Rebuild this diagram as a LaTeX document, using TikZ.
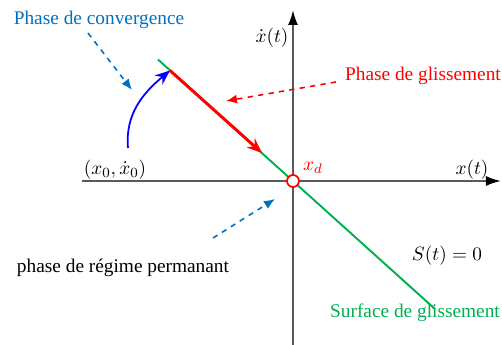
\documentclass[tikz,border=0pt]{standalone}
\usepackage{amsmath}
\usepackage{fontspec}
\setmainfont{Liberation Serif}
\usepackage{xcolor}
\usetikzlibrary{arrows.meta,positioning}
\definecolor{convblue}{RGB}{0,112,192}
\definecolor{surfgreen}{RGB}{0,176,80}

\begin{document}
\begin{tikzpicture}[
  lbl/.style={font=\fontsize{11}{13}\selectfont, inner sep=1pt},
  axis/.style={draw=black!65, line width=1.1pt, -{Latex[black,length=3mm,width=2mm]}},
  hint/.style={dashed, line width=0.9pt, -{Latex[length=2.2mm,width=1.8mm]}},
  >=Stealth
]
  \useasboundingbox (-5.86,-3.28) rectangle (4.18,3.62);

  % axes
  \coordinate (xl) at (-4.22,0);
  \coordinate (xr) at (4.16,0);
  \coordinate (yb) at (0,-3.28);
  \coordinate (yt) at (0,3.42);
  \draw[axis] (xl) -- (xr);
  \draw[axis] (yb) -- (yt);

  % sliding surface and trajectory
  \coordinate (s1) at (-2.7,2.43);
  \coordinate (s2) at (2.84,-2.56);
  \coordinate (r1) at (-2.46,2.21);
  \coordinate (r2) at (-0.62,0.56);
  \coordinate (x0) at (-3.3,0.66);
  \draw[surfgreen, line width=1.1pt] (s1) -- (s2);
  \draw[red, line width=1.7pt, -{Stealth[length=3mm,width=2.4mm]}] (r1) -- (r2);
  \draw[blue, line width=1pt, -{Stealth[length=3mm,width=2.4mm]}] (x0) to[out=95,in=220] (r1);
  \node[circle, draw=red, fill=white, line width=1pt, minimum size=2.4mm, inner sep=0pt] (O) at (0,0) {};

  % labels
  \node[lbl, text=convblue] (conv) at (-3.88,3.22) {Phase de convergence};
  \node[lbl, text=red] (gliss) at (2.6,2.1) {Phase de glissement};
  \node[lbl] (regime) at (-3.4,-1.74) {phase de régime permanant};
  \node[lbl, text=surfgreen] (surf) at (2.44,-2.64) {Surface de glissement};
  \node[lbl] (init) at (-3.56,0.22) {$(x_0,\dot{x}_0)$};
  \node[lbl] (ylab) at (-0.42,2.86) {$\dot{x}(t)$};
  \node[lbl] (xlab) at (3.58,0.22) {$x(t)$};
  \node[lbl, text=red] (xd) at (0.4,0.26) {$x_d$};
  \node[lbl] (eq) at (3.08,-1.5) {$S(t)=0$};

  % pointers
  \coordinate (c1) at (-4.1,2.96);
  \coordinate (c2) at (-3.22,1.82);
  \coordinate (g1) at (0.86,1.98);
  \coordinate (g2) at (-1.34,1.6);
  \coordinate (p1) at (-1.6,-1.14);
  \coordinate (p2) at (-0.36,-0.36);
  \draw[hint, convblue] (c1) -- (c2);
  \draw[hint, red] (g1) -- (g2);
  \draw[hint, convblue] (p1) -- (p2);
\end{tikzpicture}
\end{document}
